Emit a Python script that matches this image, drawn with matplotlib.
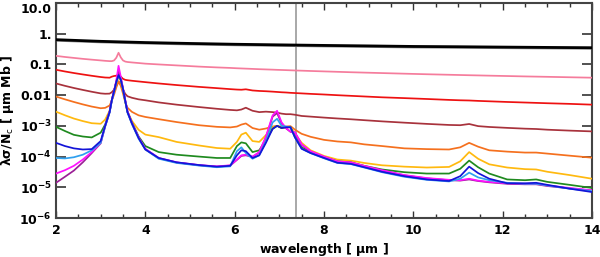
import matplotlib
matplotlib.use("Agg")
import matplotlib.pyplot as plt
from matplotlib.ticker import FixedLocator, FixedFormatter, MultipleLocator

# ---------------- data ----------------
wl_bg = [2, 3, 4, 5, 6, 7, 8, 9, 10, 11, 12, 13, 14]
black = [0.64, 0.565, 0.516, 0.482, 0.454, 0.434, 0.416, 0.401, 0.385, 0.377, 0.367, 0.358, 0.350]
gray = [0.60, 0.53, 0.485, 0.452, 0.426, 0.407, 0.39, 0.376, 0.361, 0.353, 0.344, 0.336, 0.328]

wl = [2.0, 2.2, 2.4, 2.6, 2.8,
      3.0, 3.1, 3.2, 3.25, 3.3, 3.35, 3.4, 3.45, 3.5, 3.55, 3.6, 3.7, 3.85, 4.0,
      4.3, 4.7, 5.2, 5.6, 5.9, 6.05, 6.15, 6.25, 6.4, 6.55, 6.7, 6.85, 6.95, 7.05,
      7.15, 7.25, 7.35, 7.5, 7.7, 8.0, 8.3, 8.6, 8.9, 9.3, 9.8, 10.3, 10.8, 11.05, 11.25,
      11.45, 11.7, 12.1, 12.5, 12.75, 13.0, 13.5, 14.0]

pink = [0.190, 0.175, 0.163, 0.152, 0.143,
        0.135, 0.131, 0.128, 0.128, 0.135, 0.165, 0.24, 0.17, 0.135, 0.124, 0.120, 0.116, 0.111, 0.106,
        0.100, 0.093, 0.085, 0.080, 0.077, 0.075, 0.074, 0.073,
        0.0715, 0.070, 0.0688, 0.0676, 0.0667, 0.066, 0.0652, 0.0644, 0.0636, 0.0626, 0.0612,
        0.0593, 0.0575, 0.0557, 0.0542, 0.0523, 0.050, 0.0479, 0.0461, 0.0452, 0.0445, 0.0439,
        0.0431, 0.0419, 0.0407, 0.0401, 0.0395, 0.0382, 0.037]

red = [0.067, 0.059, 0.0525, 0.0472, 0.0427,
       0.0389, 0.0375, 0.0370, 0.040, 0.042, 0.043, 0.045, 0.040, 0.034, 0.0315, 0.0306, 0.0294, 0.0279, 0.0265,
       0.0240, 0.0213, 0.0186, 0.0169, 0.0157, 0.0152,
       0.0150, 0.0155, 0.0142, 0.0137, 0.0134, 0.0130, 0.0127, 0.0124, 0.0122, 0.0119, 0.0117,
       0.0114, 0.0110, 0.0105, 0.00996, 0.0095, 0.00906, 0.0085, 0.0080, 0.0075, 0.0070, 0.0068,
       0.0067, 0.0065, 0.0063, 0.0060, 0.00575, 0.0056, 0.00545, 0.0052, 0.0049]

brown = [0.024, 0.0201, 0.0171, 0.0148, 0.0129,
         0.0114, 0.0111, 0.0112, 0.0125, 0.015, 0.020, 0.028, 0.022, 0.0152, 0.011, 0.0092, 0.0082, 0.0073, 0.0068,
         0.0058, 0.0049, 0.0041, 0.0036, 0.0033,
         0.0032, 0.0034, 0.0039, 0.0031, 0.0028, 0.0029, 0.0028, 0.0027, 0.0025, 0.0024, 0.0024,
         0.0023, 0.0021, 0.0020, 0.00186, 0.00174, 0.00164, 0.00153, 0.0014, 0.00127, 0.00116,
         0.00107, 0.00105, 0.00115, 0.00098, 0.00092, 0.00086, 0.00081, 0.00079, 0.00075,
         0.00070, 0.00066]

orange = [9.0e-3, 7.3e-3, 6.0e-3, 5.0e-3, 4.25e-3,
          3.75e-3, 3.85e-3, 4.6e-3, 6.7e-3, 1.04e-2, 1.78e-2, 2.8e-2, 2.0e-2, 1.13e-2, 5.9e-3, 3.9e-3, 2.85e-3, 2.2e-3, 1.95e-3,
          1.65e-3, 1.33e-3, 1.05e-3,
          9.3e-4, 8.9e-4, 9.5e-4, 1.1e-3, 1.2e-3, 8.5e-4, 7.5e-4, 8.2e-4, 9.5e-4, 1.0e-3, 9.3e-4,
          9.5e-4, 9.8e-4, 7.5e-4, 5.5e-4, 4.4e-4, 3.5e-4, 3.1e-4, 2.9e-4, 2.5e-4, 2.2e-4, 1.85e-4,
          1.75e-4, 1.7e-4, 2.0e-4, 2.8e-4, 2.1e-4, 1.6e-4, 1.45e-4, 1.35e-4, 1.35e-4, 1.25e-4,
          1.07e-4, 9.2e-5]

yellow = [2.9e-3, 2.21e-3, 1.73e-3, 1.43e-3, 1.22e-3,
          1.17e-3, 1.6e-3, 3.1e-3, 6.7e-3, 1.27e-2, 2.5e-2, 4.1e-2, 2.9e-2, 1.45e-2, 6.1e-3, 2.9e-3, 1.45e-3, 7.4e-4, 5.2e-4,
          4.3e-4, 3.0e-4, 2.3e-4,
          1.9e-4, 1.8e-4, 3.0e-4, 5.2e-4, 6.0e-4, 3.2e-4, 3.0e-4, 5.0e-4, 9.0e-4, 1.0e-3, 8.5e-4,
          9.0e-4, 9.0e-4, 5.5e-4, 2.8e-4, 1.6e-4, 1.05e-4, 8.0e-5, 7.4e-5, 6.2e-5, 5.2e-5, 4.7e-5,
          4.4e-5, 4.6e-5, 7.0e-5, 1.4e-4, 8.5e-5, 5.6e-5, 4.4e-5, 3.9e-5, 3.8e-5, 3.2e-5, 2.5e-5,
          1.9e-5]

green = [9.3e-4, 6.8e-4, 5.1e-4, 4.5e-4, 4.2e-4,
         6.0e-4, 1.1e-3, 2.9e-3, 7.0e-3, 1.37e-2, 2.7e-2, 4.6e-2, 3.2e-2, 1.6e-2, 6.5e-3, 2.9e-3, 1.3e-3, 4.5e-4, 2.2e-4,
         1.4e-4, 1.15e-4, 1.0e-4, 9.0e-5, 9.0e-5,
         2.2e-4, 2.9e-4, 2.7e-4, 1.4e-4, 1.6e-4, 3.5e-4, 8.0e-4, 1.0e-3, 8.5e-4, 9.0e-4, 9.0e-4,
         4.5e-4, 2.0e-4, 1.4e-4, 9.5e-5, 7.0e-5, 6.5e-5, 5.0e-5, 3.8e-5, 3.1e-5, 2.8e-5, 2.8e-5,
         4.0e-5, 7.4e-5, 4.5e-5, 2.8e-5, 1.8e-5, 1.7e-5, 1.8e-5, 1.5e-5, 1.2e-5, 9.5e-6]

blue = [2.8e-4, 2.2e-4, 1.85e-4, 1.7e-4, 1.75e-4,
        3.2e-4, 1.0e-3, 2.8e-3, 7.0e-3, 1.35e-2, 2.7e-2, 4.5e-2, 3.2e-2, 1.6e-2, 6.5e-3, 2.8e-3, 1.2e-3, 4.0e-4, 1.7e-4,
        9.0e-5, 6.5e-5, 5.3e-5, 4.7e-5, 5.0e-5,
        1.1e-4, 1.6e-4, 1.5e-4, 9.0e-5, 1.1e-4, 2.8e-4, 8.0e-4, 1.0e-3, 8.5e-4, 9.0e-4, 9.0e-4,
        4.2e-4, 1.8e-4, 1.3e-4, 9.0e-5, 6.3e-5, 5.8e-5, 4.5e-5, 3.2e-5, 2.3e-5, 1.8e-5, 1.6e-5,
        2.3e-5, 4.7e-5, 2.9e-5, 1.9e-5, 1.35e-5, 1.35e-5, 1.4e-5, 1.2e-5, 9.0e-6, 7.0e-6]

cyan = [9.0e-5, 8.7e-5, 9.5e-5, 1.15e-4, 1.6e-4,
        2.8e-4, 9.5e-4, 2.7e-3, 6.5e-3, 1.3e-2, 2.6e-2, 4.2e-2, 3.3e-2, 1.6e-2, 6.3e-3, 2.7e-3, 1.15e-3, 3.8e-4, 1.7e-4,
        8.5e-5, 6.2e-5, 5.1e-5, 4.5e-5, 4.8e-5,
        1.5e-4, 2.0e-4, 1.3e-4, 8.5e-5, 1.1e-4, 3.2e-4, 1.3e-3, 1.7e-3, 1.0e-3, 9.5e-4, 9.0e-4,
        4.2e-4, 1.8e-4, 1.3e-4, 8.8e-5, 6.2e-5, 5.7e-5, 4.4e-5, 3.1e-5, 2.2e-5, 1.75e-5, 1.55e-5,
        1.9e-5, 3.0e-5, 2.1e-5, 1.7e-5, 1.4e-5, 1.3e-5, 1.3e-5, 1.15e-5, 9.0e-6, 7.5e-6]

magenta = [2.8e-5, 3.6e-5, 5.0e-5, 8.0e-5, 1.4e-4,
           2.8e-4, 1.0e-3, 2.9e-3, 7.0e-3, 1.4e-2, 3.0e-2, 9.0e-2, 4.0e-2, 1.7e-2, 7.0e-3, 3.0e-3, 1.25e-3, 4.2e-4, 1.8e-4,
           9.0e-5, 6.5e-5, 5.3e-5, 4.8e-5, 5.2e-5,
           8.0e-5, 1.1e-4, 1.15e-4, 1.0e-4, 1.4e-4, 4.5e-4, 2.2e-3, 3.1e-3, 1.3e-3, 8.5e-4, 6.5e-4,
           6.2e-4, 2.5e-4, 1.5e-4, 1.0e-4, 7.0e-5, 6.5e-5, 5.0e-5, 3.6e-5, 2.5e-5, 2.0e-5, 1.75e-5,
           1.7e-5, 1.9e-5, 1.65e-5, 1.5e-5, 1.35e-5, 1.3e-5, 1.3e-5, 1.15e-5, 9.5e-6, 8.0e-6]

purple = [1.4e-5, 2.2e-5, 3.5e-5, 6.5e-5, 1.3e-4,
          2.7e-4, 9.5e-4, 2.8e-3, 6.8e-3, 1.35e-2, 2.8e-2, 6.0e-2, 3.6e-2, 1.6e-2, 6.8e-3, 2.9e-3, 1.2e-3, 4.1e-4, 1.75e-4,
          8.8e-5, 6.4e-5, 5.2e-5, 4.7e-5, 5.1e-5,
          7.8e-5, 1.05e-4, 1.1e-4, 9.8e-5, 1.35e-4, 4.2e-4, 2.0e-3, 2.6e-3, 1.2e-3, 8.3e-4, 6.4e-4,
          6.0e-4, 2.4e-4, 1.45e-4, 9.8e-5, 6.9e-5, 6.4e-5, 4.9e-5, 3.5e-5, 2.45e-5, 1.95e-5, 1.7e-5,
          1.65e-5, 1.8e-5, 1.6e-5, 1.45e-5, 1.3e-5, 1.25e-5, 1.25e-5, 1.1e-5, 9.2e-6, 7.8e-6]

ytick_vals = [1e1, 1e0, 1e-1, 1e-2, 1e-3, 1e-4, 1e-5, 1e-6]
ytick_labels = ['10.0', '1.', '0.1', '0.01', r'10$^{-3}$', r'10$^{-4}$', r'10$^{-5}$', r'10$^{-6}$']
xtick_vals = [2, 4, 6, 8, 10, 12, 14]
vline_x = 7.37

# ---------------- plotting ----------------
plt.rcParams['font.family'] = ['DejaVu Sans']
plt.rcParams['mathtext.fontset'] = 'dejavusans'
plt.rcParams['mathtext.default'] = 'bf'

fig = plt.figure(figsize=(6.0, 2.57), dpi=100)
ax = fig.add_axes([56 / 600, 1 - 218 / 257, (592 - 56) / 600, (218 - 3) / 257])

ax.axvline(vline_x, color='#a8a8a8', lw=1.4, zorder=1)

ax.plot(wl_bg, gray, color='#8c8c8c', lw=1.6, zorder=2)
ax.plot(wl_bg, black, color='black', lw=2.0, zorder=3)

series = [
    (pink, '#f57c9c'),
    (red, '#ee1111'),
    (brown, '#a8323c'),
    (orange, '#f5701e'),
    (yellow, '#ffb90f'),
    (green, '#1f8a1f'),
    (purple, '#9b1f96'),
    (magenta, '#ff10ff'),
    (cyan, '#2fa0ef'),
    (blue, '#1414d8'),
]
for vals, col in series:
    ax.plot(wl, vals, color=col, lw=1.25, zorder=3)

ax.set_yscale('log')
ax.set_xlim(2, 14)
ax.set_ylim(1e-6, 10)

ax.yaxis.set_major_locator(FixedLocator(ytick_vals))
ax.yaxis.set_major_formatter(FixedFormatter(ytick_labels))
ax.yaxis.set_minor_locator(FixedLocator([]))
ax.xaxis.set_major_locator(FixedLocator(xtick_vals))
ax.xaxis.set_minor_locator(MultipleLocator(0.5))

ax.tick_params(axis='both', which='both', direction='in', top=True, right=True,
               colors='#333333', labelcolor='black', labelsize=9)
ax.tick_params(axis='y', which='major', length=7.5, width=1.2, pad=3)
ax.tick_params(axis='x', which='major', length=5, width=1.0, pad=4)
ax.tick_params(axis='x', which='minor', length=3, width=1.0)

fig.canvas.draw()
for lab in ax.get_xticklabels() + ax.get_yticklabels():
    lab.set_fontweight('bold')
# keep the top label inside the figure
ax.get_yticklabels()[0].set_verticalalignment('top')

for sp in ax.spines.values():
    sp.set_color('#444444')
    sp.set_linewidth(1.5)

ax.set_xlabel(r'wavelength [ $\mu$m ]', fontsize=9, fontweight='bold', labelpad=3)
ax.set_ylabel(r'$\lambda\sigma$/N$_{\rm c}$ [ $\mu$m Mb ]', fontsize=9, fontweight='bold', labelpad=2)

fig.savefig('out.png', dpi=100)
